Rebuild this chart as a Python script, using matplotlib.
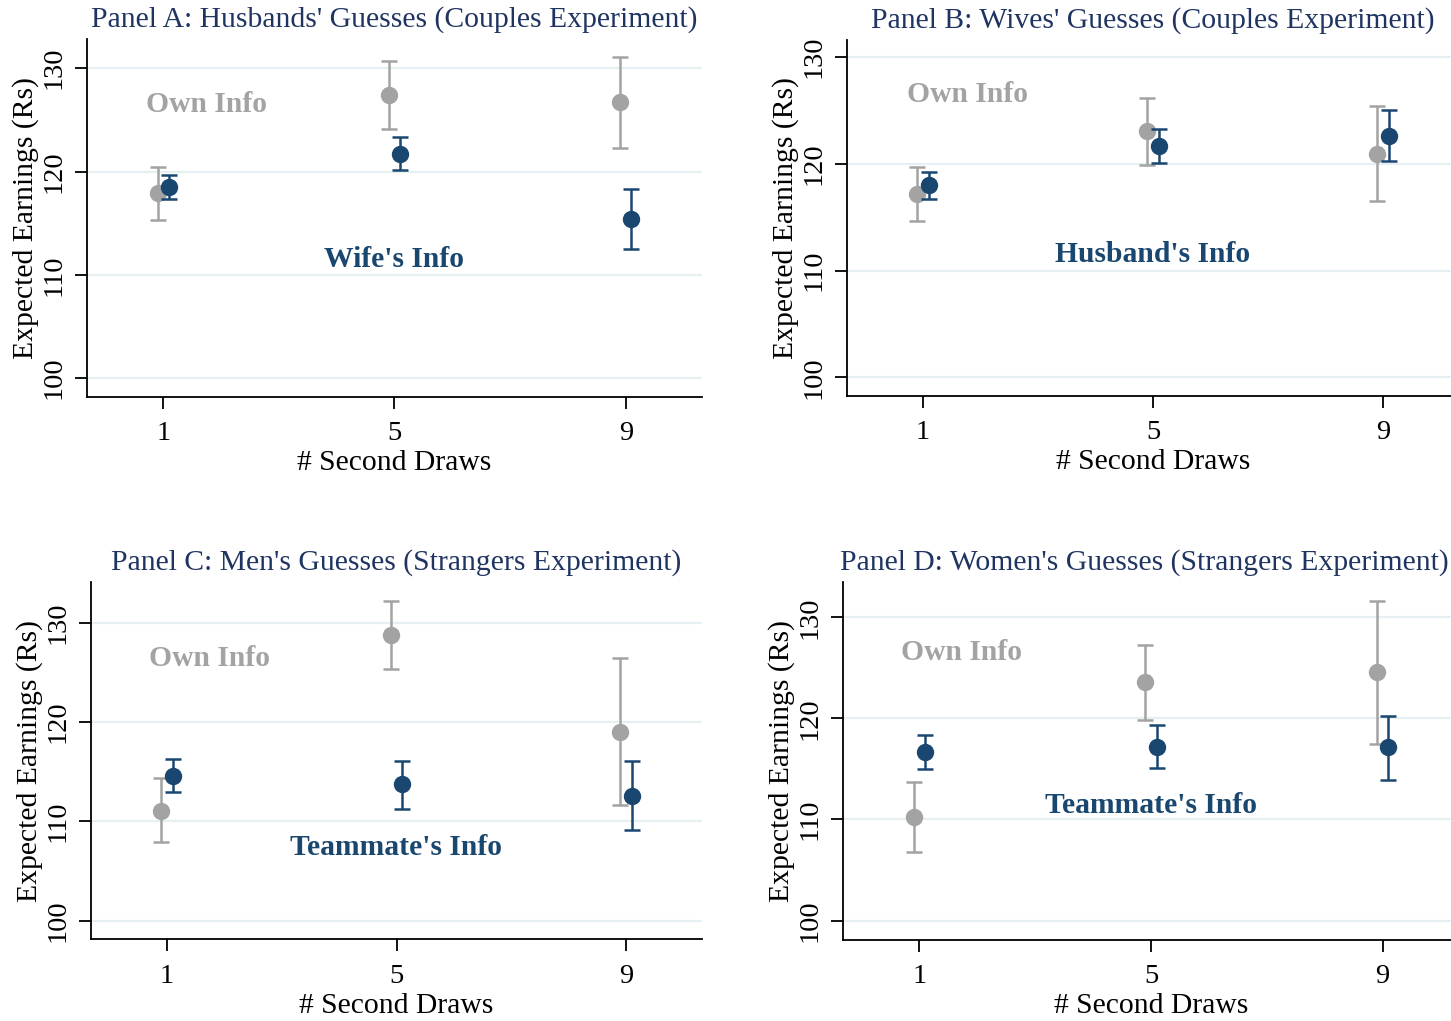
import numpy as np
import matplotlib
matplotlib.use('Agg')
from matplotlib import pyplot as plt

plt.rcParams['font.family'] = ['Liberation Serif', 'DejaVu Serif']

# Number of second draws (x axis)
draws = [1, 5, 9]

# Panel titles and partner label text
titles = ["Panel A: Husbands' Guesses (Couples Experiment)",
          "Panel B: Wives' Guesses (Couples Experiment)",
          "Panel C: Men's Guesses (Strangers Experiment)",
          "Panel D: Women's Guesses (Strangers Experiment)"]
partner_labels = ["Wife's Info", "Husband's Info", "Teammate's Info", "Teammate's Info"]

# Mean expected earnings with own info, and CI bounds
own_mean = [[117.9, 127.4, 126.7],
            [117.15, 123.05, 120.95],
            [111.1, 128.75, 119.05],
            [110.2, 123.55, 124.6]]
own_lo = [[115.35, 124.1, 122.25],
          [114.65, 119.9, 116.5],
          [107.9, 125.3, 111.65],
          [106.75, 119.85, 117.5]]
own_hi = [[120.4, 130.7, 131.1],
          [119.7, 126.2, 125.4],
          [114.35, 132.2, 126.4],
          [113.7, 127.25, 131.65]]

# Mean expected earnings with partner's info, and CI bounds
partner_mean = [[118.5, 121.7, 115.4],
                [118.0, 121.7, 122.6],
                [114.6, 113.75, 112.55],
                [116.7, 117.2, 117.15]]
partner_lo = [[117.35, 120.1, 112.5],
              [116.75, 120.1, 120.25],
              [113.0, 111.3, 109.1],
              [115.0, 115.05, 113.95]]
partner_hi = [[119.65, 123.35, 118.3],
              [119.2, 123.3, 125.0],
              [116.25, 116.1, 116.1],
              [118.35, 119.3, 120.25]]

# where the "Info" labels sit, in data units
own_label_pos = [(1.75, 126.75), (1.77, 126.75), (1.75, 126.65), (1.73, 126.8)]
partner_label_pos = [(5, 111.8), (5, 111.75), (5, 107.7), (5, 111.7)]

# y range of each panel
ylims = [(98.2, 132.8), (98.25, 131.6), (98.15, 134.06), (98.08, 133.46)]

# axes boxes in pixels: left, right, top, bottom
W, H = 1451, 1021
boxes = [(87, 702, 39.3, 396.7),
         (847, 1459, 40, 396),
         (91, 702, 582.3, 939.3),
         (843, 1459, 582.3, 940)]

gray = '#a3a3a3'
navy = '#1a476f'
title_col = '#1f3461'
grid_col = '#e6eff2'

fig = plt.figure(figsize=(W / 100, H / 100), dpi=100)
fig.patch.set_facecolor('white')

x = np.array(draws, dtype=float)
title_objs = []
for i in range(4):
    l, r, t, b = boxes[i]
    ax = fig.add_axes([l / W, 1 - b / H, (r - l) / W, (b - t) / H])

    ax.errorbar(x - 0.1, own_mean[i],
                yerr=[np.array(own_mean[i]) - np.array(own_lo[i]),
                      np.array(own_hi[i]) - np.array(own_mean[i])],
                fmt='o', color=gray, ms=11.5, elinewidth=1.8, capsize=5.5,
                capthick=1.8, zorder=3)
    ax.errorbar(x + 0.1, partner_mean[i],
                yerr=[np.array(partner_mean[i]) - np.array(partner_lo[i]),
                      np.array(partner_hi[i]) - np.array(partner_mean[i])],
                fmt='o', color=navy, ms=11.5, elinewidth=1.8, capsize=5.5,
                capthick=1.8, zorder=4)

    ax.text(*own_label_pos[i], 'Own Info', color=gray, fontsize=21.3,
            fontweight='bold', ha='center', va='center_baseline')
    ax.text(*partner_label_pos[i], partner_labels[i], color=navy, fontsize=21.3,
            fontweight='bold', ha='center', va='center_baseline')

    ax.set_xlim(-0.32, 10.32)
    ax.set_ylim(*ylims[i])
    ax.set_xticks(draws)
    ax.set_yticks([100, 110, 120, 130])
    ax.yaxis.grid(True, color=grid_col, lw=1.6)
    ax.set_axisbelow(True)

    for s in ['top', 'right']:
        ax.spines[s].set_visible(False)
    for s in ['left', 'bottom']:
        ax.spines[s].set_linewidth(1.3)
        ax.spines[s].set_color('black')

    ax.tick_params(axis='both', length=8.5, width=1.3, color='black',
                   labelsize=20.5)
    ax.tick_params(axis='x', pad=9)
    ax.tick_params(axis='y', labelrotation=90, pad=6)
    for lab in ax.get_yticklabels():
        lab.set_va('center')

    ax.set_xlabel('# Second Draws', fontsize=21.3, labelpad=3)
    ax.set_ylabel('Expected Earnings (Rs)', fontsize=21.3, labelpad=2)
    title_objs.append((ax, ax.set_title(titles[i], fontsize=21.3,
                                        color=title_col, pad=9)))

# nudge any title that runs past the right edge back inside the figure
fig.canvas.draw()
renderer = fig.canvas.get_renderer()
for ax, ttl in title_objs:
    ext = ttl.get_window_extent(renderer)
    over = ext.x1 - (W - 2)
    if over > 0:
        ax_w = ax.get_window_extent(renderer).width
        ttl.set_x(0.5 - over / ax_w)

plt.savefig('out.png', dpi=100)
